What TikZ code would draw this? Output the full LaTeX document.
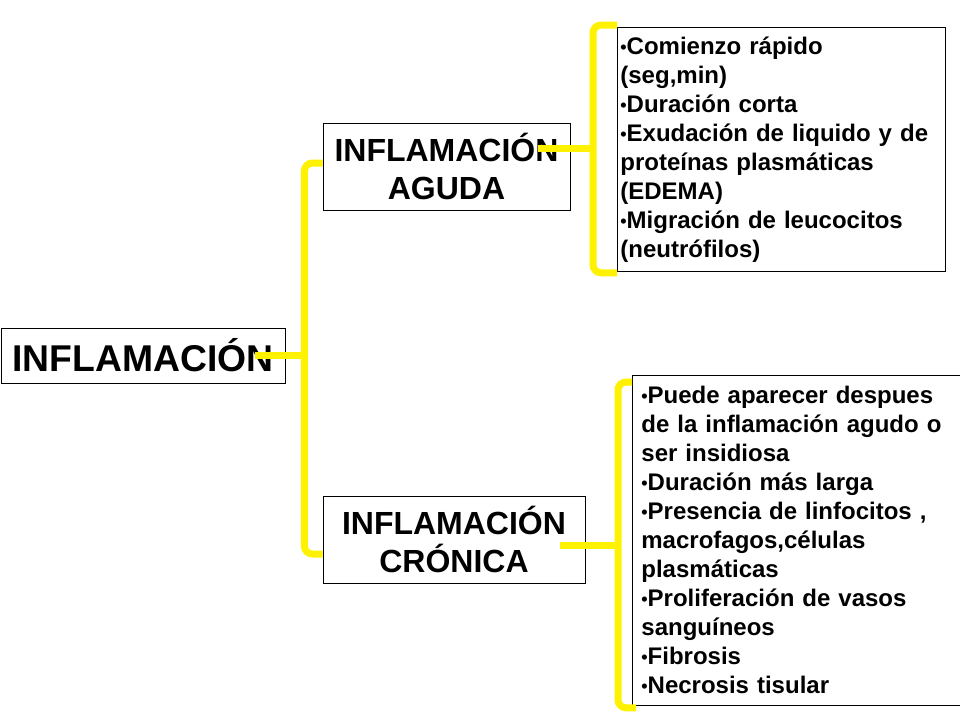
\documentclass[tikz,border=0pt]{standalone}
\usepackage{fontspec}
\setmainfont{Liberation Sans}
\usetikzlibrary{positioning}
\newcommand{\lbul}{\raisebox{1pt}{\fontsize{18}{18}\selectfont•}}

\begin{document}
\begin{tikzpicture}[x=1pt,y=1pt,
    box/.style={draw,line width=0.8pt,inner sep=0pt,align=center},
    listbox/.style={draw,line width=0.8pt,align=left,inner xsep=7pt,inner ysep=0pt,anchor=north west,font=\fontsize{24}{29}\selectfont\bfseries},
    bracket/.style={draw=yellow,line width=7pt,rounded corners=8pt}]
    \useasboundingbox[fill=white] (0,0) rectangle (960,-720);

    \node[box,minimum width=284pt,minimum height=55pt,font=\fontsize{37.3}{44}\selectfont\bfseries] (root) at (143,-355.5) {INFLAMACIÓN};
    \node[box,minimum width=247pt,minimum height=87pt,font=\fontsize{32}{38.5}\selectfont\bfseries] (aguda) at (446.5,-166.5) {INFLAMACIÓN\\AGUDA};
    \node[box,minimum width=262pt,minimum height=87pt,font=\fontsize{32}{38.5}\selectfont\bfseries] (cronica) at (454,-539.5) {INFLAMACIÓN\\CRÓNICA};

    \node[listbox,text width=322pt,minimum height=244pt,inner xsep=3pt] (agudalist) at (617,-27) {\lbul Comienzo rápido\\(seg,min)\\\lbul Duración corta\\\lbul Exudación de liquido y de\\proteínas plasmáticas\\(EDEMA)\\\lbul Migración de leucocitos\\(neutrófilos)};
    \node[listbox,text width=340pt,minimum height=330pt,inner xsep=9pt] (cronicalist) at (632,-375) {\lbul Puede aparecer despues\\de la inflamación agudo o\\ser insidiosa\\\lbul Duración más larga\\\lbul Presencia de linfocitos ,\\macrofagos,células\\plasmáticas\\\lbul Proliferación de vasos\\sanguíneos\\\lbul Fibrosis\\\lbul Necrosis tisular};

    \coordinate (roottap) at ([xshift=-30pt]root.east);
    \coordinate (rootspine) at ([xshift=19pt]root.east);
    \coordinate (agudatap) at ([xshift=-32pt,yshift=18.5pt]aguda.east);
    \coordinate (agudaspine) at ([xshift=-24pt]agudalist.west);
    \coordinate (cronicatap) at ([xshift=-25pt,yshift=-5.5pt]cronica.east);
    \coordinate (cronicaspine) at ([xshift=-14pt]cronicalist.west);

    \draw[bracket] ([yshift=3.5pt]aguda.west) -| (rootspine) |- ([yshift=-14.5pt]cronica.west);
    \draw[bracket] (roottap) -- (rootspine);

    \draw[bracket] ([yshift=2pt]agudalist.north west) -| ([xshift=-24pt,yshift=-1pt]agudalist.south west) -- ([yshift=-1pt]agudalist.south west);
    \draw[bracket] (agudatap) -- (agudatap -| agudaspine);

    \draw[bracket] ([yshift=-7pt]cronicalist.north west) -| ([xshift=-14pt,yshift=-2pt]cronicalist.south west) -- ([xshift=4pt,yshift=-2pt]cronicalist.south west);
    \draw[bracket] (cronicatap) -- (cronicatap -| cronicaspine);
\end{tikzpicture}
\end{document}
